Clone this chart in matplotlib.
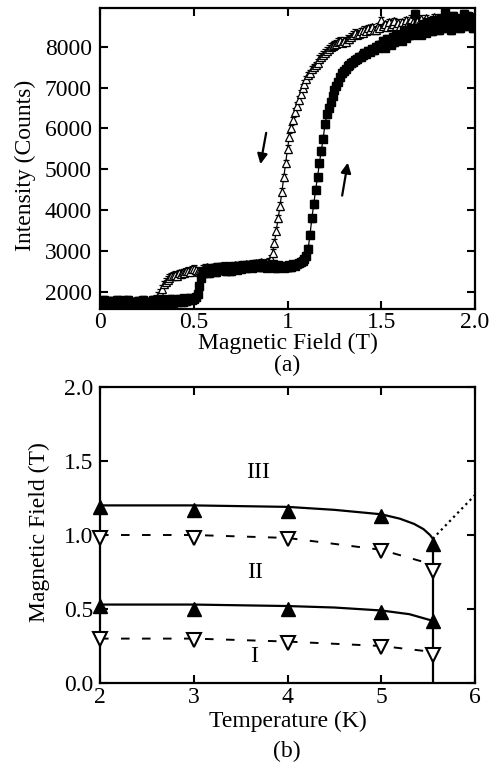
import numpy as np
import matplotlib
matplotlib.use("Agg")
import matplotlib.pyplot as plt

plt.rcParams['font.family'] = ['Liberation Serif', 'DejaVu Serif']

# ---------------- Panel (a) data ----------------
field = np.round(np.arange(0, 201) * 0.01, 2)  # sweep grid 0.00 .. 2.00 T

intensity_up = [
    1750, 1700, 1800, 1680, 1780, 1740, 1660, 1770, 1710, 1800,
    1690, 1750, 1790, 1680, 1730, 1810, 1700, 1670, 1760, 1730,
    1780, 1690, 1740, 1800, 1710, 1680, 1760, 1720, 1810, 1740,
    1700, 1780, 1730, 1820, 1750, 1710, 1790, 1760, 1830, 1730,
    1800, 1740, 1830, 1770, 1750, 1840, 1780, 1800, 1850, 1810,
    1830, 1870, 1950, 2150, 2350, 2450, 2500, 2530, 2460, 2570,
    2510, 2580, 2480, 2600, 2530, 2620, 2540, 2500, 2610, 2550,
    2510, 2620, 2570, 2540, 2640, 2570, 2610, 2650, 2580, 2620,
    2660, 2590, 2630, 2680, 2600, 2640, 2690, 2610, 2650, 2590,
    2640, 2600, 2670, 2610, 2580, 2650, 2600, 2640, 2590, 2620,
    2600, 2650, 2610, 2670, 2640, 2690, 2700, 2730, 2760, 2800,
    2880, 3050, 3400, 3800, 4150, 4500, 4800, 5150, 5450, 5750,
    6100, 6350, 6500, 6650, 6800, 6950, 7050, 7150, 7250, 7350,
    7400, 7450, 7520, 7550, 7600, 7620, 7680, 7700, 7750, 7760,
    7800, 7850, 7830, 7900, 7880, 7950, 7920, 8000, 7980, 8050,
    8050, 8150, 7980, 8200, 8100, 8050, 8250, 8120, 8300, 8180,
    8250, 8150, 8400, 8220, 8350, 8280, 8450, 8300, 8800, 8350,
    8450, 8300, 8550, 8400, 8350, 8600, 8450, 8380, 8650, 8500,
    8550, 8400, 8700, 8450, 8850, 8500, 8650, 8400, 8750, 8550,
    8500, 8700, 8450, 8650, 8800, 8500, 8750, 8550, 8700, 8450,
    8650,
]

intensity_down = [
    1740, 1690, 1770, 1710, 1760, 1680, 1730, 1780, 1700, 1750,
    1710, 1760, 1690, 1740, 1780, 1710, 1690, 1760, 1720, 1700,
    1750, 1780, 1710, 1690, 1760, 1720, 1770, 1740, 1790, 1800,
    1830, 1900, 1980, 2080, 2180, 2250, 2300, 2350, 2380, 2400,
    2420, 2380, 2450, 2430, 2480, 2460, 2500, 2520, 2480, 2550,
    2560, 2530, 2500, 2480, 2520, 2560, 2580, 2600, 2550, 2590,
    2570, 2600, 2620, 2580, 2610, 2600, 2630, 2590, 2620, 2640,
    2610, 2630, 2650, 2620, 2640, 2660, 2630, 2650, 2670, 2640,
    2660, 2680, 2650, 2700, 2670, 2690, 2720, 2700, 2680, 2720,
    2740, 2800, 2950, 3200, 3500, 3800, 4100, 4450, 4800, 5150,
    5500, 5800, 6000, 6200, 6400, 6550, 6700, 6850, 7000, 7100,
    7200, 7300, 7350, 7450, 7500, 7550, 7600, 7700, 7750, 7800,
    7850, 7900, 7950, 8000, 8020, 8050, 8080, 8120, 8150, 8100,
    8150, 8120, 8200, 8180, 8250, 8300, 8350, 8300, 8320, 8380,
    8350, 8420, 8380, 8450, 8400, 8480, 8420, 8400, 8500, 8450,
    8650, 8500, 8550, 8480, 8600, 8500, 8560, 8620, 8520, 8580,
    8500, 8600, 8540, 8650, 8580, 8530, 8680, 8600, 8550, 8620,
    8560, 8680, 8580, 8620, 8700, 8560, 8640, 8580, 8720, 8600,
    8580, 8700, 8600, 8660, 8610, 8750, 8630, 8600, 8700, 8620,
    8600, 8680, 8620, 8720, 8630, 8610, 8700, 8620, 8740, 8640,
    8680,
]
intensity_err = 90

# ---------------- Panel (b) data ----------------
temps = [2, 3, 4, 5, 5.55]
up_high = [1.19, 1.17, 1.16, 1.13, 0.94]
up_low = [0.52, 0.50, 0.50, 0.48, 0.42]
down_high = [0.98, 0.98, 0.97, 0.89, 0.76]
down_low = [0.30, 0.29, 0.27, 0.24, 0.19]

curve_high_T = [2, 3, 4, 4.5, 5, 5.2, 5.35, 5.45, 5.52, 5.55]
curve_high_B = [1.20, 1.20, 1.19, 1.17, 1.14, 1.11, 1.075, 1.04, 1.00, 0.975]
curve_low_T = [2, 3, 4, 4.5, 5, 5.3, 5.55]
curve_low_B = [0.53, 0.53, 0.52, 0.51, 0.49, 0.465, 0.42]
dash_high_T = [2, 3, 4, 5, 5.55]
dash_high_B = [1.0, 1.0, 0.98, 0.90, 0.80]
dash_low_T = [2, 3, 4, 5, 5.55]
dash_low_B = [0.30, 0.30, 0.28, 0.25, 0.21]
boundary_T = [5.55, 5.55]
boundary_B = [0.0, 0.975]
dotted_T = [5.55, 6.0]
dotted_B = [0.975, 1.27]

region_labels = ["III", "II", "I"]
region_T = [3.69, 3.65, 3.64]
region_B = [1.42, 0.75, 0.18]

# ---------------- Figure ----------------
fig = plt.figure(figsize=(4.91, 7.64), dpi=100)
W, H = 491, 764

def ax_rect(l, t, r, b):
    return [l / W, 1 - b / H, (r - l) / W, (b - t) / H]

FS = 17

ax1 = fig.add_axes(ax_rect(100, 8, 475, 309))
ax1.errorbar(field, intensity_down, yerr=intensity_err, fmt='-', color='black', lw=0.9,
             marker='^', ms=5.5, mfc='white', mec='black', mew=0.9,
             elinewidth=0.7, capsize=2, zorder=2)
ax1.errorbar(field, intensity_up, yerr=intensity_err, fmt='-', color='black', lw=0.9,
             marker='s', ms=5.5, mfc='black', mec='black',
             elinewidth=0.7, capsize=2, zorder=3)
ax1.set_xlim(0, 2.0)
ax1.set_ylim(1580, 8950)
ax1.set_xticks([0, 0.5, 1, 1.5, 2.0])
ax1.set_xticklabels(['0', '0.5', '1', '1.5', '2.0'])
ax1.set_yticks([2000, 3000, 4000, 5000, 6000, 7000, 8000])
ax1.set_xlabel('Magnetic Field (T)', fontsize=FS, va='center')
ax1.xaxis.set_label_coords(0.5, (309 - 343) / 301)
ax1.set_ylabel('Intensity (Counts)', fontsize=FS, va='center')
ax1.yaxis.set_label_coords((25 - 100) / 375, (309 - 165) / 301)
for s in ax1.spines.values():
    s.set_linewidth(1.6)
ax1.tick_params(direction='in', length=6, width=1.5, top=True, right=True,
                labelsize=FS)
ax1.tick_params(axis='y', pad=6)
ax1.tick_params(axis='x', pad=2)
ax1.annotate('', xy=(0.853, 5060), xytext=(0.889, 5960),
             arrowprops=dict(arrowstyle='-|>', color='black', lw=1.6,
                             mutation_scale=15))
ax1.annotate('', xy=(1.324, 5230), xytext=(1.289, 4290),
             arrowprops=dict(arrowstyle='-|>', color='black', lw=1.6,
                             mutation_scale=15))
fig.text(287 / W, 1 - 365 / H, '(a)', ha='center', va='center', fontsize=FS)

ax2 = fig.add_axes(ax_rect(100, 387, 475, 683))
ax2.plot(curve_high_T, curve_high_B, '-', color='black', lw=1.6, zorder=2)
ax2.plot(curve_low_T, curve_low_B, '-', color='black', lw=1.6, zorder=2)
ax2.plot(boundary_T, boundary_B, '-', color='black', lw=1.6, zorder=2)
ax2.plot(dotted_T, dotted_B, ':', color='black', lw=1.6, zorder=2)
ax2.plot(dash_high_T, dash_high_B, '--', color='black', lw=1.4, dashes=(4.4, 6.4), zorder=2)
ax2.plot(dash_low_T, dash_low_B, '--', color='black', lw=1.4, dashes=(4.4, 6.4), zorder=2)
ax2.plot(temps, up_high, '^', ms=10, color='black', zorder=4, clip_on=False)
ax2.plot(temps, up_low, '^', ms=10, color='black', zorder=4, clip_on=False)
ax2.plot(temps, down_high, 'v', ms=10, mfc='white', mec='black', mew=1.5, zorder=4, clip_on=False)
ax2.plot(temps, down_low, 'v', ms=10, mfc='white', mec='black', mew=1.5, zorder=4, clip_on=False)
for lab, t, b in zip(region_labels, region_T, region_B):
    ax2.text(t, b, lab, ha='center', va='center', fontsize=FS)
ax2.set_xlim(2, 6)
ax2.set_ylim(0, 2.0)
ax2.set_xticks([2, 3, 4, 5, 6])
ax2.set_yticks([0, 0.5, 1.0, 1.5, 2.0])
ax2.set_yticklabels(['0.0', '0.5', '1.0', '1.5', '2.0'])
ax2.set_xlabel('Temperature (K)', fontsize=FS, va='center')
ax2.xaxis.set_label_coords(0.5, (683 - 721) / 296)
ax2.set_ylabel('Magnetic Field (T)', fontsize=FS, va='center')
ax2.yaxis.set_label_coords((39 - 100) / 375, (683 - 532) / 296)
for s in ax2.spines.values():
    s.set_linewidth(1.6)
ax2.tick_params(direction='in', length=6, width=1.5, top=True, right=True,
                labelsize=FS)
ax2.tick_params(axis='y', pad=5)
ax2.tick_params(axis='x', pad=3)
fig.text(287 / W, 1 - 751 / H, '(b)', ha='center', va='center', fontsize=FS)

fig.savefig('out.png', dpi=100)
